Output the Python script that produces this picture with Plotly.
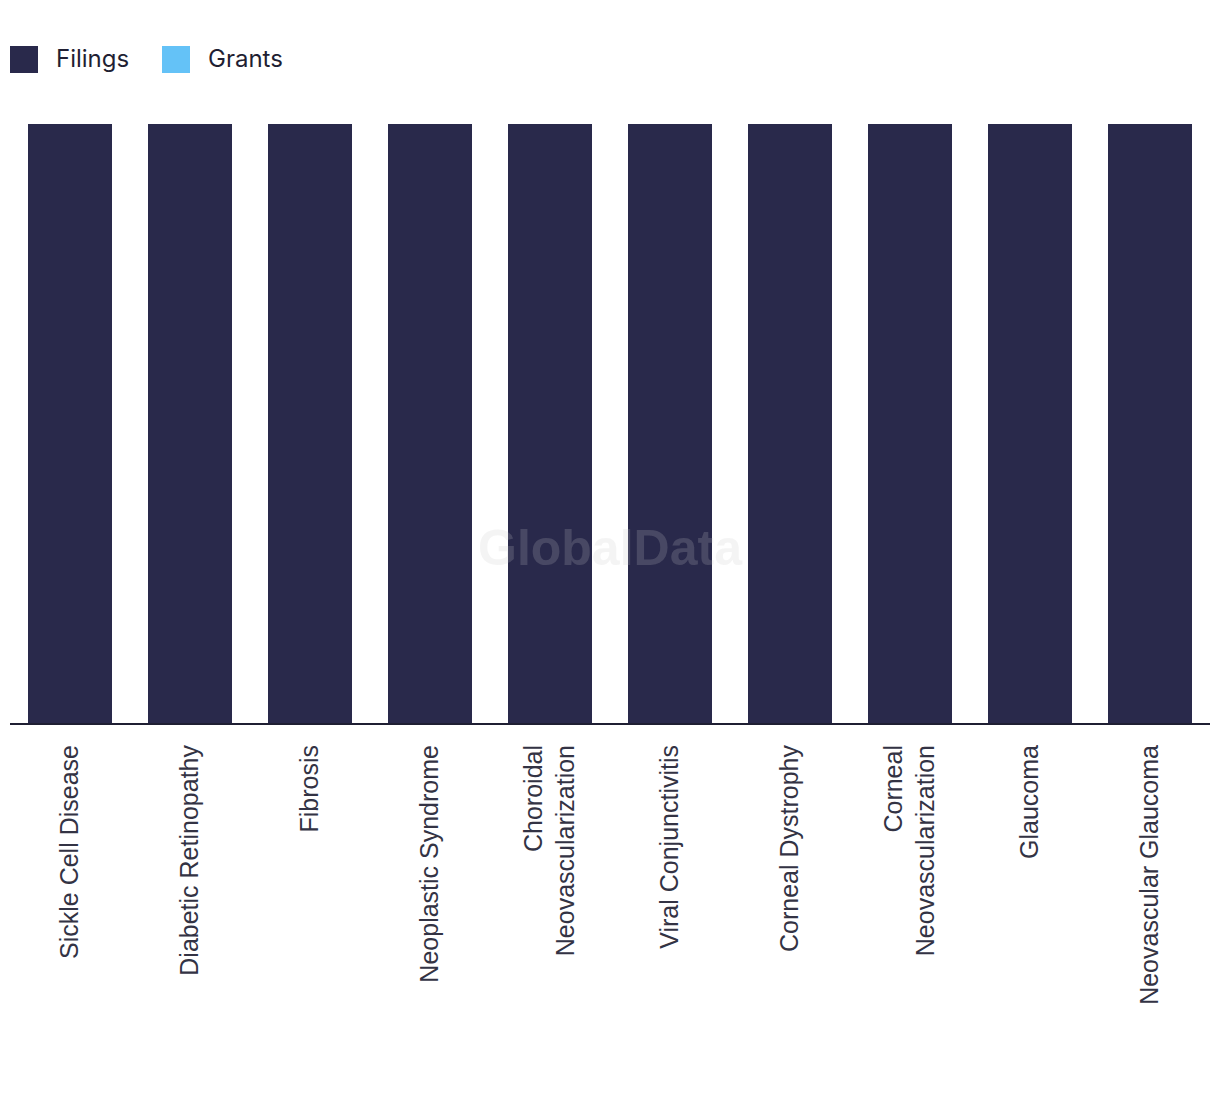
import plotly.graph_objects as go

categories = [
    "Sickle Cell Disease",
    "Diabetic Retinopathy",
    "Fibrosis",
    "Neoplastic Syndrome",
    "Choroidal<br>Neovascularization",
    "Viral Conjunctivitis",
    "Corneal Dystrophy",
    "Corneal<br>Neovascularization",
    "Glaucoma",
    "Neovascular Glaucoma",
]
filings = [1, 1, 1, 1, 1, 1, 1, 1, 1, 1]
grants = [0, 0, 0, 0, 0, 0, 0, 0, 0, 0]
series_names = ["Filings", "Grants"]
series_colors = ["#29294b", "#64c2f7"]

fig = go.Figure()
fig.add_trace(go.Bar(x=categories, y=filings, name=series_names[0],
                     marker=dict(color=series_colors[0], line=dict(width=0)),
                     showlegend=False))
fig.add_trace(go.Bar(x=categories, y=grants, name=series_names[1],
                     marker=dict(color=series_colors[1], line=dict(width=0)),
                     showlegend=False))

# page has an 8px body margin; positions below are in window pixels
OFF = 8
W, H = 1204, 1078
ml, mr, mt, mb = 2, 2, 116, 363
pw, ph = W - ml - mr, H - mt - mb

def px_to_paper_x(px):
    return (px - OFF - ml) / pw

def px_to_paper_y(py):
    return (OFF + H - mb - py) / ph

legend_x = [10, 162]
for x0, name, col in zip(legend_x, series_names, series_colors):
    fig.add_shape(type="rect", xref="paper", yref="paper",
                  x0=px_to_paper_x(x0), x1=px_to_paper_x(x0 + 28),
                  y0=px_to_paper_y(73), y1=px_to_paper_y(46),
                  fillcolor=col, line=dict(width=0))
    fig.add_annotation(xref="paper", yref="paper",
                       x=px_to_paper_x(x0 + 44), y=px_to_paper_y(58),
                       text=name, showarrow=False, xanchor="left", yanchor="middle",
                       font=dict(family="Inter, Lato, sans-serif", size=24, color="#1f1f33"))

# watermark
fig.add_annotation(xref="paper", yref="paper", x=0.5, y=px_to_paper_y(578),
                   text="<b>GlobalData</b>", showarrow=False,
                   font=dict(family="Liberation Sans, Arial, sans-serif", size=50,
                             color="rgba(201,201,201,0.2)"))

fig.update_layout(
    width=W, height=H,
    margin=dict(l=ml, r=mr, t=mt, b=mb, autoexpand=False),
    paper_bgcolor="white", plot_bgcolor="white",
    barmode="overlay", bargap=0.3,
    xaxis=dict(tickangle=-90, showline=True, linecolor="#1f1f33", linewidth=2,
               ticks="", showgrid=False, ticklabelstandoff=10,
               tickfont=dict(family="Liberation Sans, Arial, sans-serif", size=25, color="#333344")),
    yaxis=dict(visible=False, range=[0, 1], showgrid=False, zeroline=False),
    showlegend=False,
)

fig.write_html("out.html")
